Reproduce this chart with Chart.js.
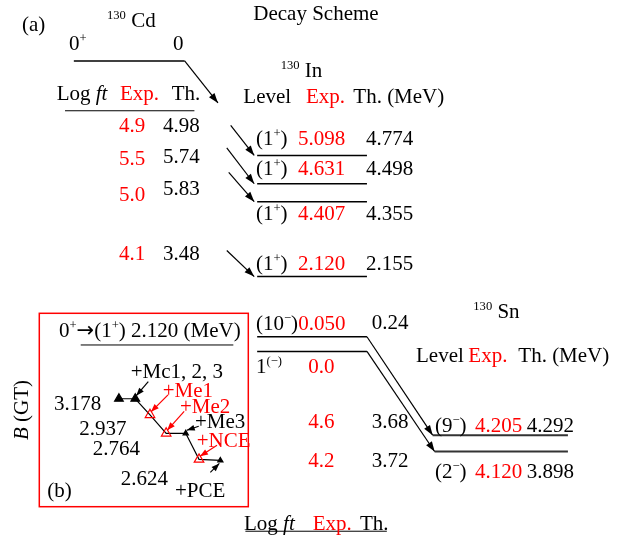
<!DOCTYPE html>
<html>
<head>
<meta charset="utf-8">
<script src="https://cdn.jsdelivr.net/npm/chart.js@4.4.0/dist/chart.umd.min.js"></script>
<style>
  body { margin: 0; background: #fff; }
  #chart { display: block; }
</style>
</head>
<body>
<canvas id="chart" width="630" height="543"></canvas>
<script>
// ---- values ({...} = superscript) ----
const cdSpin = '0{+}';
const cdEnergy = '0';
const inSpins = ['(1{+})', '(1{+})', '(1{+})', '(1{+})'];
const inExp = ['5.098', '4.631', '4.407', '2.120'];
const inTh = ['4.774', '4.498', '4.355', '2.155'];
const inLogftExp = ['4.9', '5.5', '5.0', '4.1'];
const inLogftTh = ['4.98', '5.74', '5.83', '3.48'];
const isoSpins = ['(10{−})', '1{(−)}'];
const isoExp = ['0.050', '0.0'];
const isoTh = ['0.24', ''];
const snSpins = ['(9{−})', '(2{−})'];
const snExp = ['4.205', '4.120'];
const snTh = ['4.292', '3.898'];
const snLogftExp = ['4.6', '4.2'];
const snLogftTh = ['3.68', '3.72'];

// inset (b): B(GT) of the 0+ -> (1+) 2.120 MeV transition, step by step
const bgtSteps = ['', '+Mc1, 2, 3', '+Me1', '+Me2', '+Me3', '+NCE', '+PCE'];
const bgtStepX = [0, 1.01, 1.92, 2.92, 4.13, 4.95, 6.27];
const bgtValues = [3.178, 3.178, 3.03, 2.86, 2.86, 2.62, 2.61];
const bgtLabels = ['3.178', '2.937', '2.764', '2.624'];

// ---- layout (canvas pixels) ----
const FONT = "'Liberation Serif', 'Times New Roman', serif";
const SIZE = 21;
const RED = '#ff0000';
const inLineY = [152.7, 181.7, 200, 276.7];
const inLabelY = [145, 175, 220, 270];
const inLogftExpY = [132, 165, 201, 260];
const inLogftThY = [132, 163, 195, 260];
const inArrowFrom = [[229, 122], [225, 145], [227, 170], [225, 250]];
const isoLineY = [338.3, 353.3];
const isoLabelY = [330, 373];
const snLineY = [439, 455.7];
const snLineX = [435, 437];
const snLabelY = [432, 478];
const snLogftY = [428, 467];
// inset scales: 16.5 px per step from x=115, 111.2 px per unit with 3.178 at y=401.7
const bgtX0 = 115, bgtPxX = 16.5, bgtY0 = 401.7, bgtPxY = 111.2;
const bgtPointColor = ['#000', '#000', RED, RED, '#000', RED, '#000'];
const bgtPointSize = [5, 5, 5.5, 5.5, 3, 5.5, 3];
const bgtArrowFrom = [null, [13, -17], [18, -20], [18, -22], [13, -7], [18, -14], [-10, 12]];
const bgtStepPos = [null, [130.7, 378], [162.7, 396.7], [180, 413.3], [195, 428.3], [196.7, 446.7], [175, 496.7]];
const bgtLabelPos = [[54, 410], [79.3, 435], [92.7, 455], [120.7, 485]];

function seg(points, extra) {
  return Object.assign({
    data: points.map(p => ({ x: p[0], y: p[1] })),
    showLine: true, borderColor: '#000', borderWidth: 1.5,
    pointRadius: 0, fill: false, clip: false
  }, extra || {});
}

const datasets = [];
datasets.push(seg([[69, 56], [182, 56]]));
datasets.push(seg([[182, 56], [216, 99]], { arrow: true, borderWidth: 1.2 }));
datasets.push(seg([[60, 107], [192, 107]], { borderWidth: 1 }));
inExp.forEach((_, i) => {
  datasets.push(seg([[256, inLineY[i]], [368, inLineY[i]]]));
  datasets.push(seg([inArrowFrom[i], [253, inLineY[i]]], { arrow: true, borderWidth: 1.2 }));
});
isoExp.forEach((_, i) => {
  datasets.push(seg([[256, isoLineY[i]], [368, isoLineY[i]]]));
  datasets.push(seg([[368, isoLineY[i]], [snLineX[i], snLineY[i]]], { arrow: true, borderWidth: 1.2 }));
});
snExp.forEach((_, i) => {
  datasets.push(seg([[snLineX[i], snLineY[i]], [573, snLineY[i]]], { borderWidth: 2, borderColor: '#333' }));
});
datasets.push(seg([[244, 537.3], [388.3, 537.3]], { borderWidth: 1 }));
datasets.push(seg([[76, 346.7], [231.7, 346.7]], { borderWidth: 1 }));
datasets.push({
  data: bgtStepX.map((x, i) => ({ x: x, y: bgtValues[i] })),
  xAxisID: 'xb', yAxisID: 'yb',
  showLine: true, borderColor: '#000', borderWidth: 1.2, clip: false,
  pointStyle: 'triangle',
  pointRadius: bgtPointSize,
  pointBorderColor: bgtPointColor,
  pointBackgroundColor: bgtPointColor.map(c => c === RED ? 'rgba(255,255,255,0)' : '#000'),
  pointBorderWidth: 1.2
});

function segsOf(markup, color) {
  return markup.split(/(\{[^}]*\}|→)/).filter(s => s).map(s => {
    if (s[0] === '{') return { t: s.slice(1, -1), sup: true, color: color };
    if (s === '→') return { t: s, font: "'DejaVu Sans'", color: color };
    return { t: s, color: color };
  });
}

function drawText(ctx, segs, x, y, size) {
  size = size || SIZE;
  let cx = x;
  segs.forEach(s => {
    const sz = s.sup ? size * 0.6 : size;
    ctx.font = (s.it ? 'italic ' : '') + sz + 'px ' + (s.font || FONT);
    ctx.fillStyle = s.color || '#000';
    ctx.fillText(s.t, cx, s.sup ? y - size * 0.38 : y);
    cx += ctx.measureText(s.t).width;
  });
}

function arrowHead(ctx, x0, y0, x1, y1, color, len, half) {
  len = len || 10; half = half || 3.5;
  const a = Math.atan2(y1 - y0, x1 - x0);
  const bx = x1 - len * Math.cos(a), by = y1 - len * Math.sin(a);
  ctx.save();
  ctx.fillStyle = color;
  ctx.beginPath();
  ctx.moveTo(x1, y1);
  ctx.lineTo(bx + half * Math.sin(a), by - half * Math.cos(a));
  ctx.lineTo(bx - half * Math.sin(a), by + half * Math.cos(a));
  ctx.closePath();
  ctx.fill();
  ctx.restore();
}

const texts = [];
function put(markup, x, y, color, size) { texts.push({ segs: segsOf(markup, color), x: x, y: y, size: size }); }

put('(a)', 22, 31);
put('Decay Scheme', 253.3, 20);
put('{130} Cd', 107, 26.7);
put(cdSpin, 69, 50);
put(cdEnergy, 173, 50);
texts.push({ segs: [{ t: 'Log ' }, { t: 'ft', it: true }], x: 56.7, y: 100 });
put('Exp.', 120, 100, RED);
put('Th.', 171.7, 100);
put('{130} In', 280.7, 76.7);
put('Level', 243.3, 103.3);
put('Exp.', 306, 103.3, RED);
put('Th. (MeV)', 353.3, 103.3);
inExp.forEach((_, i) => {
  put(inSpins[i], 256, inLabelY[i]);
  put(inExp[i], 298, inLabelY[i], RED);
  put(inTh[i], 366, inLabelY[i]);
  put(inLogftExp[i], 119, inLogftExpY[i], RED);
  put(inLogftTh[i], 163, inLogftThY[i]);
});
isoExp.forEach((_, i) => {
  put(isoSpins[i], 256, isoLabelY[i]);
  put(isoExp[i], i === 0 ? 298.3 : 308.3, isoLabelY[i], RED);
  put(isoTh[i], 371.7, isoLabelY[i] - 1);
  put(snLogftExp[i], 308.3, snLogftY[i], RED);
  put(snLogftTh[i], 371.7, snLogftY[i]);
});
put('{130} Sn', 473.3, 318.3);
put('Level', 416, 361.7);
put('Exp.', 468.3, 361.7, RED);
put('Th. (MeV)', 518.3, 361.7);
snExp.forEach((_, i) => {
  put(snSpins[i], 435, snLabelY[i]);
  put(snExp[i], 475, snLabelY[i], RED);
  put(snTh[i], 526.7, snLabelY[i]);
});
texts.push({ segs: [{ t: 'Log ' }, { t: 'ft', it: true }], x: 244, y: 530 });
put('Exp.', 312.7, 530, RED);
put('Th.', 360, 530);
// inset
put('0{+}→(1{+}) 2.120 (MeV)', 59, 336.7);
bgtLabels.forEach((t, i) => put(t, bgtLabelPos[i][0], bgtLabelPos[i][1]));
bgtSteps.forEach((t, i) => {
  if (t) put(t, bgtStepPos[i][0], bgtStepPos[i][1], bgtPointColor[i]);
});
put('(b)', 47.3, 496.7);

const schemePlugin = {
  id: 'scheme',
  afterDatasetsDraw(chart) {
    const ctx = chart.ctx;
    chart.data.datasets.forEach((ds, i) => {
      if (!ds.arrow) return;
      const pts = chart.getDatasetMeta(i).data;
      const a = pts[pts.length - 2], b = pts[pts.length - 1];
      arrowHead(ctx, a.x, a.y, b.x, b.y, ds.borderColor);
    });
  },
  afterDraw(chart) {
    const ctx = chart.ctx;
    ctx.save();
    ctx.textBaseline = 'alphabetic';
    // inset frame
    ctx.strokeStyle = RED;
    ctx.lineWidth = 1.5;
    ctx.strokeRect(39.3, 313.3, 209, 193.4);
    // step annotations pointing at the B(GT) points
    const xs = chart.scales.xb, ys = chart.scales.yb;
    bgtStepX.forEach((v, i) => {
      const off = bgtArrowFrom[i];
      if (!off) return;
      const px = xs.getPixelForValue(v), py = ys.getPixelForValue(bgtValues[i]);
      const tx = px + (off[0] > 0 ? 1 : -1) * 1, ty = py + (off[1] > 0 ? 3 : -3);
      ctx.strokeStyle = bgtPointColor[i];
      ctx.lineWidth = 1.2;
      ctx.beginPath();
      ctx.moveTo(px + off[0], py + off[1]);
      ctx.lineTo(tx, ty);
      ctx.stroke();
      arrowHead(ctx, px + off[0], py + off[1], tx, ty, bgtPointColor[i], 8, 3);
    });
    texts.forEach(t => drawText(ctx, t.segs, t.x, t.y, t.size));
    // y title of the inset
    ctx.translate(28, 410);
    ctx.rotate(-Math.PI / 2);
    ctx.font = SIZE + 'px ' + FONT;
    const w = ctx.measureText(' (GT)').width;
    ctx.font = 'italic ' + SIZE + 'px ' + FONT;
    const wb = ctx.measureText('B').width;
    drawText(ctx, [{ t: 'B', it: true }, { t: ' (GT)' }], -(w + wb) / 2, 0);
    ctx.restore();
  }
};

new Chart(document.getElementById('chart'), {
  type: 'scatter',
  data: { datasets: datasets },
  options: {
    responsive: false,
    animation: false,
    layout: { padding: 0 },
    plugins: { legend: { display: false }, tooltip: { enabled: false } },
    scales: {
      x: { type: 'linear', min: 0, max: 630, display: false },
      y: { type: 'linear', min: 0, max: 543, reverse: true, display: false },
      xb: { type: 'linear', axis: 'x', position: 'bottom', display: false,
            min: -bgtX0 / bgtPxX, max: (630 - bgtX0) / bgtPxX },
      yb: { type: 'linear', axis: 'y', position: 'left', display: false,
            min: 3.178 - (543 - bgtY0) / bgtPxY, max: 3.178 + bgtY0 / bgtPxY }
    }
  },
  plugins: [schemePlugin]
});
</script>
</body>
</html>
